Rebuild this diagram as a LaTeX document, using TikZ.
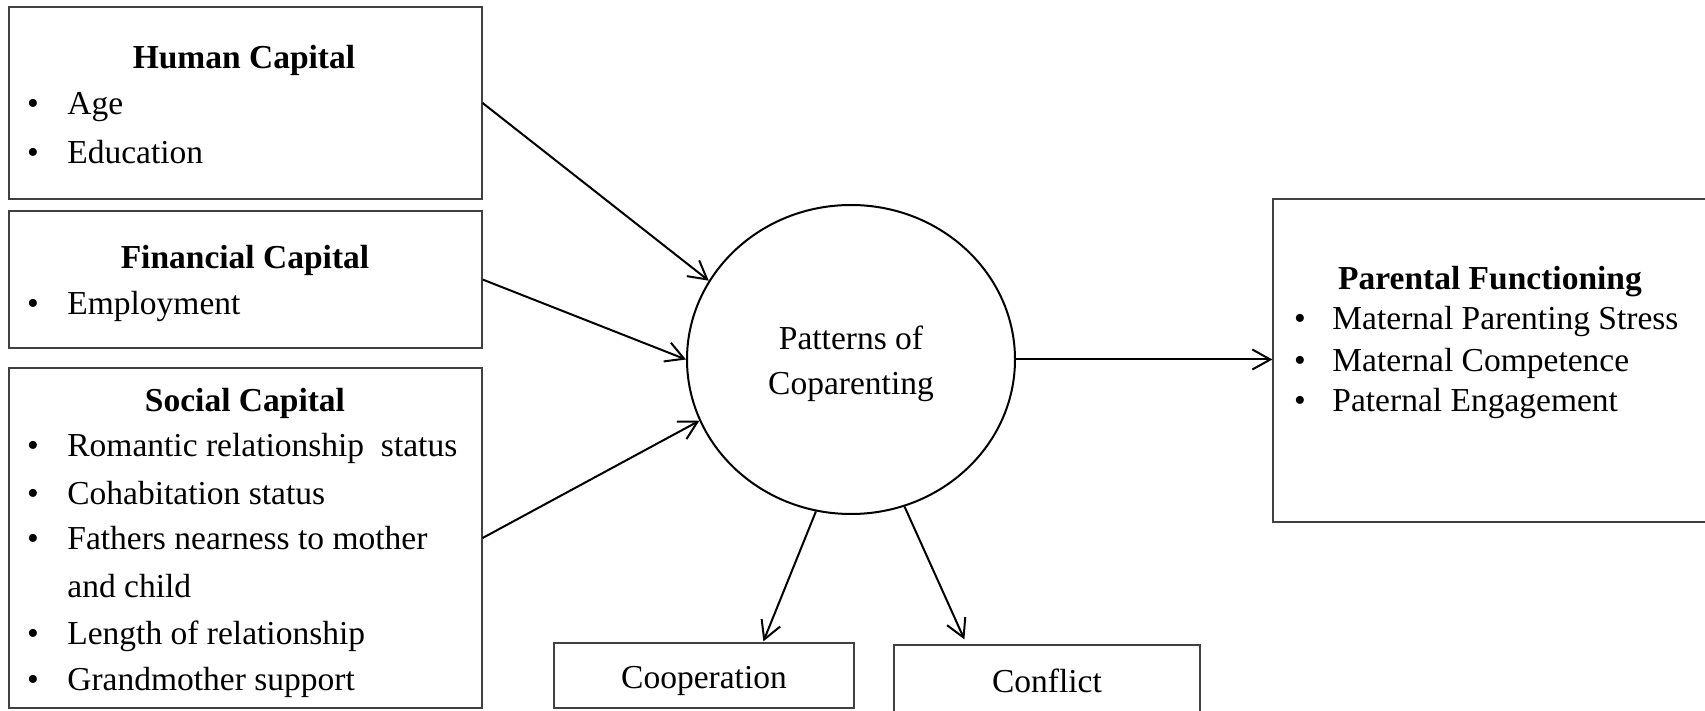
\documentclass[tikz,border=0pt]{standalone}
\usepackage{fontspec}
\setmainfont{Liberation Serif}
\usetikzlibrary{arrows.meta,calc,shapes.geometric}

\begin{document}
\begin{tikzpicture}[x=0.5pt,y=-0.5pt,>={Straight Barb[length=9pt,width=10pt]},
  every node/.style={font=\fontsize{16.75}{22.5}\selectfont},
  box/.style={draw=black!75,line width=0.6pt,rectangle,inner sep=0pt},
  small box/.style={box,text height=14pt,text depth=1.5pt},
  hd/.style={anchor=base,inner sep=0pt,yshift=-1pt,font=\fontsize{16.75}{22.5}\selectfont\bfseries},
  bul/.style={anchor=base,inner sep=0pt,yshift=-1pt},
  itm/.style={anchor=base west,inner sep=0pt,yshift=-1pt},
  link/.style={->,line width=1pt}]
  \useasboundingbox (0,0) rectangle (1705,711);
  % capitals on the left
  \node[box,minimum width=236.5pt,minimum height=96pt] (hc) at (245.5,103) {};
  \node[box,minimum width=236.5pt,minimum height=68.5pt] (fc) at (245.5,279.5) {};
  \node[box,minimum width=236.5pt,minimum height=170pt] (sc) at (245.5,538) {};
  \node[hd] (hc-h) at (244,67) {Human Capital};
  \foreach \yy/\txt [count=\i] in {113/Age,162/Education}{
    \node[bul] (hc-b\i) at (33,\yy) {\textbullet};
    \node[itm] (hc-t\i) at (67,\yy) {\txt};
  }
  \node[hd] (fc-h) at (245,267) {Financial Capital};
  \node[bul] (fc-b1) at (33,313) {\textbullet};
  \node[itm] (fc-t1) at (67,313) {Employment};
  \node[hd] (sc-h) at (245,410) {Social Capital};
  \foreach \yy/\txt [count=\i] in {455/Romantic relationship~ status,502/Cohabitation status,
      548/Fathers nearness to mother,642/Length of relationship,688/Grandmother support}{
    \node[bul] (sc-b\i) at (33,\yy) {\textbullet};
    \node[itm] (sc-t\i) at (67,\yy) {\txt};
  }
  \node[itm] (sc-t3b) at (67,595) {and child};
  % coparenting
  \node[draw,ellipse,line width=1pt,minimum width=164pt,minimum height=154.5pt,
    inner sep=0pt] (pc) at (851,359.5) {};
  \node[bul] (pc-t1) at (851,348) {Patterns of};
  \node[bul] (pc-t2) at (851,393) {Coparenting};
  \node[small box,minimum width=150pt,minimum height=32.5pt] (coop) at (704,675.5) {Cooperation};
  \node[small box,minimum width=153pt,minimum height=34.5pt] (conf) at (1047,679.5) {Conflict};
  % outcome
  \node[box,minimum width=218pt,minimum height=161.5pt] (pf) at (1491,360.5) {};
  \node[hd] (pf-h) at (1490,288) {Parental Functioning};
  \foreach \yy/\txt [count=\i] in {328/Maternal Parenting Stress,370/Maternal Competence,
      410/Paternal Engagement}{
    \node[bul] (pf-b\i) at (1300,\yy) {\textbullet};
    \node[itm] (pf-t\i) at (1332,\yy) {\txt};
  }
  % paths
  \draw[link] (hc.east) -- (pc.151);
  \draw[link] (fc.east) -- (pc.180);
  \draw[link] (sc.east) -- (pc.202);
  \draw[link] (pc.257) -- ($(coop.north west)+(210,-1)$);
  \draw[link] (pc.290) -- ($(conf.north west)+(71,-5)$);
  \draw[link] (pc.east) -- (pc.east -| pf.west);
\end{tikzpicture}
\end{document}
